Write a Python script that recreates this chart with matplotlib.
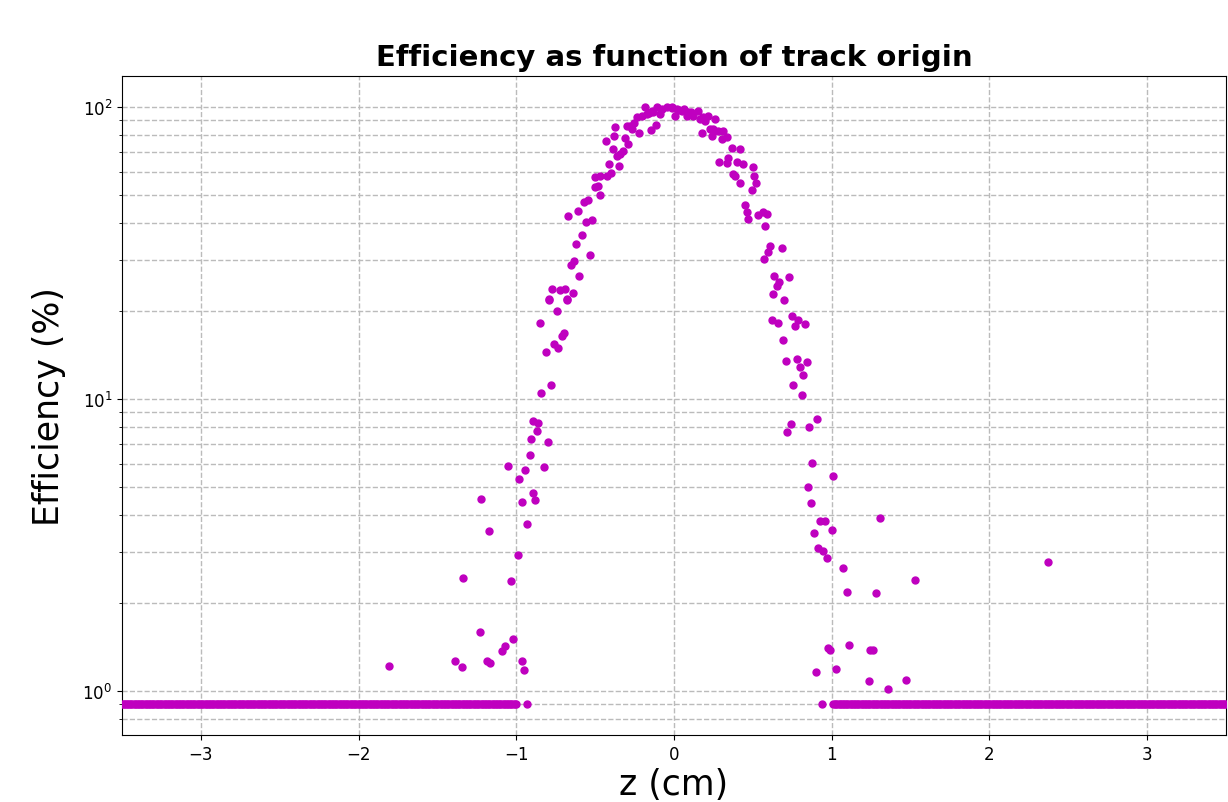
import numpy as np
import matplotlib
matplotlib.use("Agg")
import matplotlib.pyplot as plt

# efficiency per z bin, in %
z_pts = [-1.807, -1.389, -1.344, -1.338, -1.230, -1.224, -1.186, -1.173, -1.167,
         -1.091, -1.072, -1.053, -1.034, -1.021, -0.989, -0.983, -0.964, -0.964,
         -0.951, -0.945, -0.932, -0.913, -0.894, -0.881, -0.907, -0.894, -0.862,
         -0.869, -0.822, -0.801, -0.841, -0.782, -0.812, -0.761, -0.734, -0.712,
         -0.699, -0.850, -0.742, -0.791, -0.680, -0.791, -0.770, -0.723, -0.691,
         -0.680, -0.642, -0.600, -0.655, -0.634, -0.621, -0.585, -0.533, -0.558,
         -0.522, -0.670, -0.609, -0.569, -0.543, -0.469, -0.501, -0.480, -0.501,
         -0.469, -0.427, -0.400, -0.410, -0.347, -0.363, -0.342, -0.321, -0.389,
         -0.431, -0.290, -0.380, -0.311, -0.374, -0.300, -0.279, -0.268, -0.220,
         -0.148, -0.114, -0.254, -0.237, -0.205, -0.173, -0.184, -0.141, -0.110,
         -0.078, -0.046, -0.015, 0.017, -0.089, 0.006, 0.049, 0.081, 0.091,
         0.122, 0.154, 0.165, 0.186, 0.217, 0.197, 0.260, 0.176, 0.228, 0.249,
         0.239, 0.281, 0.313, 0.302, 0.334, 0.366, 0.419, 0.287, 0.344, 0.334,
         0.397, 0.440, 0.499, 0.376, 0.387, 0.507, 0.520, 0.419, 0.493, 0.450,
         0.461, 0.471, 0.535, 0.566, 0.588, 0.577, 0.609, 0.598, 0.683, 0.571,
         0.634, 0.668, 0.731, 0.651, 0.630, 0.698, 0.619, 0.657, 0.750, 0.788,
         0.767, 0.831, 0.689, 0.708, 0.778, 0.841, 0.799, 0.820, 0.757, 0.810,
         0.740, 0.719, 0.858, 0.909, 0.877, 1.010, 0.852, 0.869, 0.926, 0.957,
         1.000, 0.890, 0.915, 0.947, 0.968, 1.070, 1.099, 1.281, 1.306, 0.978,
         0.989, 1.110, 1.243, 1.264, 0.900, 1.027, 1.238, 2.374, 1.530, 1.471,
         1.359, -0.010, 0.030, -0.130, 0.065, -0.160, 0.110]
eff_pts = [1.22, 1.27, 1.21, 2.44, 1.59, 4.54, 1.27, 3.53, 1.25,
           1.37, 1.43, 5.90, 2.38, 1.51, 2.92, 5.32, 1.27, 4.44,
           1.18, 5.72, 3.73, 6.43, 4.76, 4.52, 7.30, 8.41, 8.30,
           7.77, 5.86, 7.11, 10.5, 11.2, 14.5, 15.4, 15.0, 16.5,
           16.8, 18.2, 20.0, 21.8, 21.8, 22.0, 23.8, 23.7, 23.9,
           22.0, 23.1, 26.3, 28.8, 29.8, 33.9, 36.5, 31.1, 40.3,
           41.1, 42.3, 44.2, 47.2, 48.2, 50.0, 53.1, 53.8, 57.5,
           58.2, 57.9, 59.4, 63.8, 63.0, 68.1, 69.3, 70.9, 71.8,
           76.7, 74.6, 79.4, 78.2, 85.1, 86.2, 86.2, 84.1, 81.5,
           83.6, 86.7, 88.5, 92.2, 92.9, 94.6, 99.7, 97.1, 99.7,
           98.4, 99.7, 99.7, 98.4, 94.6, 92.9, 97.1, 92.9, 95.9,
           92.9, 97.1, 90.9, 92.3, 92.9, 89.8, 90.9, 81.5, 84.1, 84.1,
           79.8, 83.0, 83.0, 77.6, 78.9, 72.2, 71.8, 65.0, 66.7, 64.3,
           65.0, 63.6, 62.1, 59.0, 58.2, 57.9, 55.0, 55.0, 52.1, 46.3,
           43.6, 41.3, 42.7, 43.7, 43.0, 39.2, 33.5, 31.8, 32.8, 30.2,
           26.4, 25.2, 26.2, 24.3, 22.9, 21.8, 18.7, 18.2, 19.2, 18.7,
           17.8, 18.1, 15.9, 13.5, 13.7, 13.4, 12.9, 12.1, 11.2, 10.3,
           8.21, 7.69, 8.04, 8.54, 6.04, 5.46, 4.98, 4.39, 3.83, 3.83,
           3.57, 3.48, 3.10, 3.02, 2.85, 2.63, 2.19, 2.17, 3.90, 1.40,
           1.38, 1.44, 1.38, 1.38, 1.16, 1.19, 1.08, 2.77, 2.40, 1.09,
           1.02, 99.0, 98.0, 96.5, 98.8, 95.5, 96.0]

# bins with no efficiency are drawn on the floor value
floor_eff = 0.9
bin_width = 0.01
zero_ranges = [(-3.5, -1.0), (1.01, 3.5)]
zero_single = [-0.93, 0.94]

zero_z = np.concatenate([np.arange(lo, hi + 1e-9, bin_width) for lo, hi in zero_ranges]
                        + [np.array(zero_single)])

fig = plt.figure(figsize=(12.28, 8.03), dpi=100)
ax = fig.add_axes([0.0993, 0.0834, 0.899, 0.8207])

ax.scatter(zero_z, np.full(len(zero_z), floor_eff), s=25, color='m', zorder=3)
ax.scatter(z_pts, eff_pts, s=25, color='m', zorder=3)

ax.set_yscale('log')
ax.set_xlim(-3.5, 3.5)
ax.set_ylim(0.707, 127.7)
ax.set_xticks([-3, -2, -1, 0, 1, 2, 3])
ax.grid(True, which='major', axis='x', linestyle='--', color='#bbbbbb', linewidth=1)
ax.grid(True, which='both', axis='y', linestyle='--', color='#bbbbbb', linewidth=1)
ax.tick_params(labelsize=12)

ax.set_title("Efficiency as function of track origin", fontsize=21, fontweight='bold', pad=8)
ax.set_ylabel("Efficiency (%)", fontsize=25, labelpad=12)
ax.set_xlabel("z (cm)", fontsize=25, labelpad=3)

fig.savefig("out.png", dpi=100)
